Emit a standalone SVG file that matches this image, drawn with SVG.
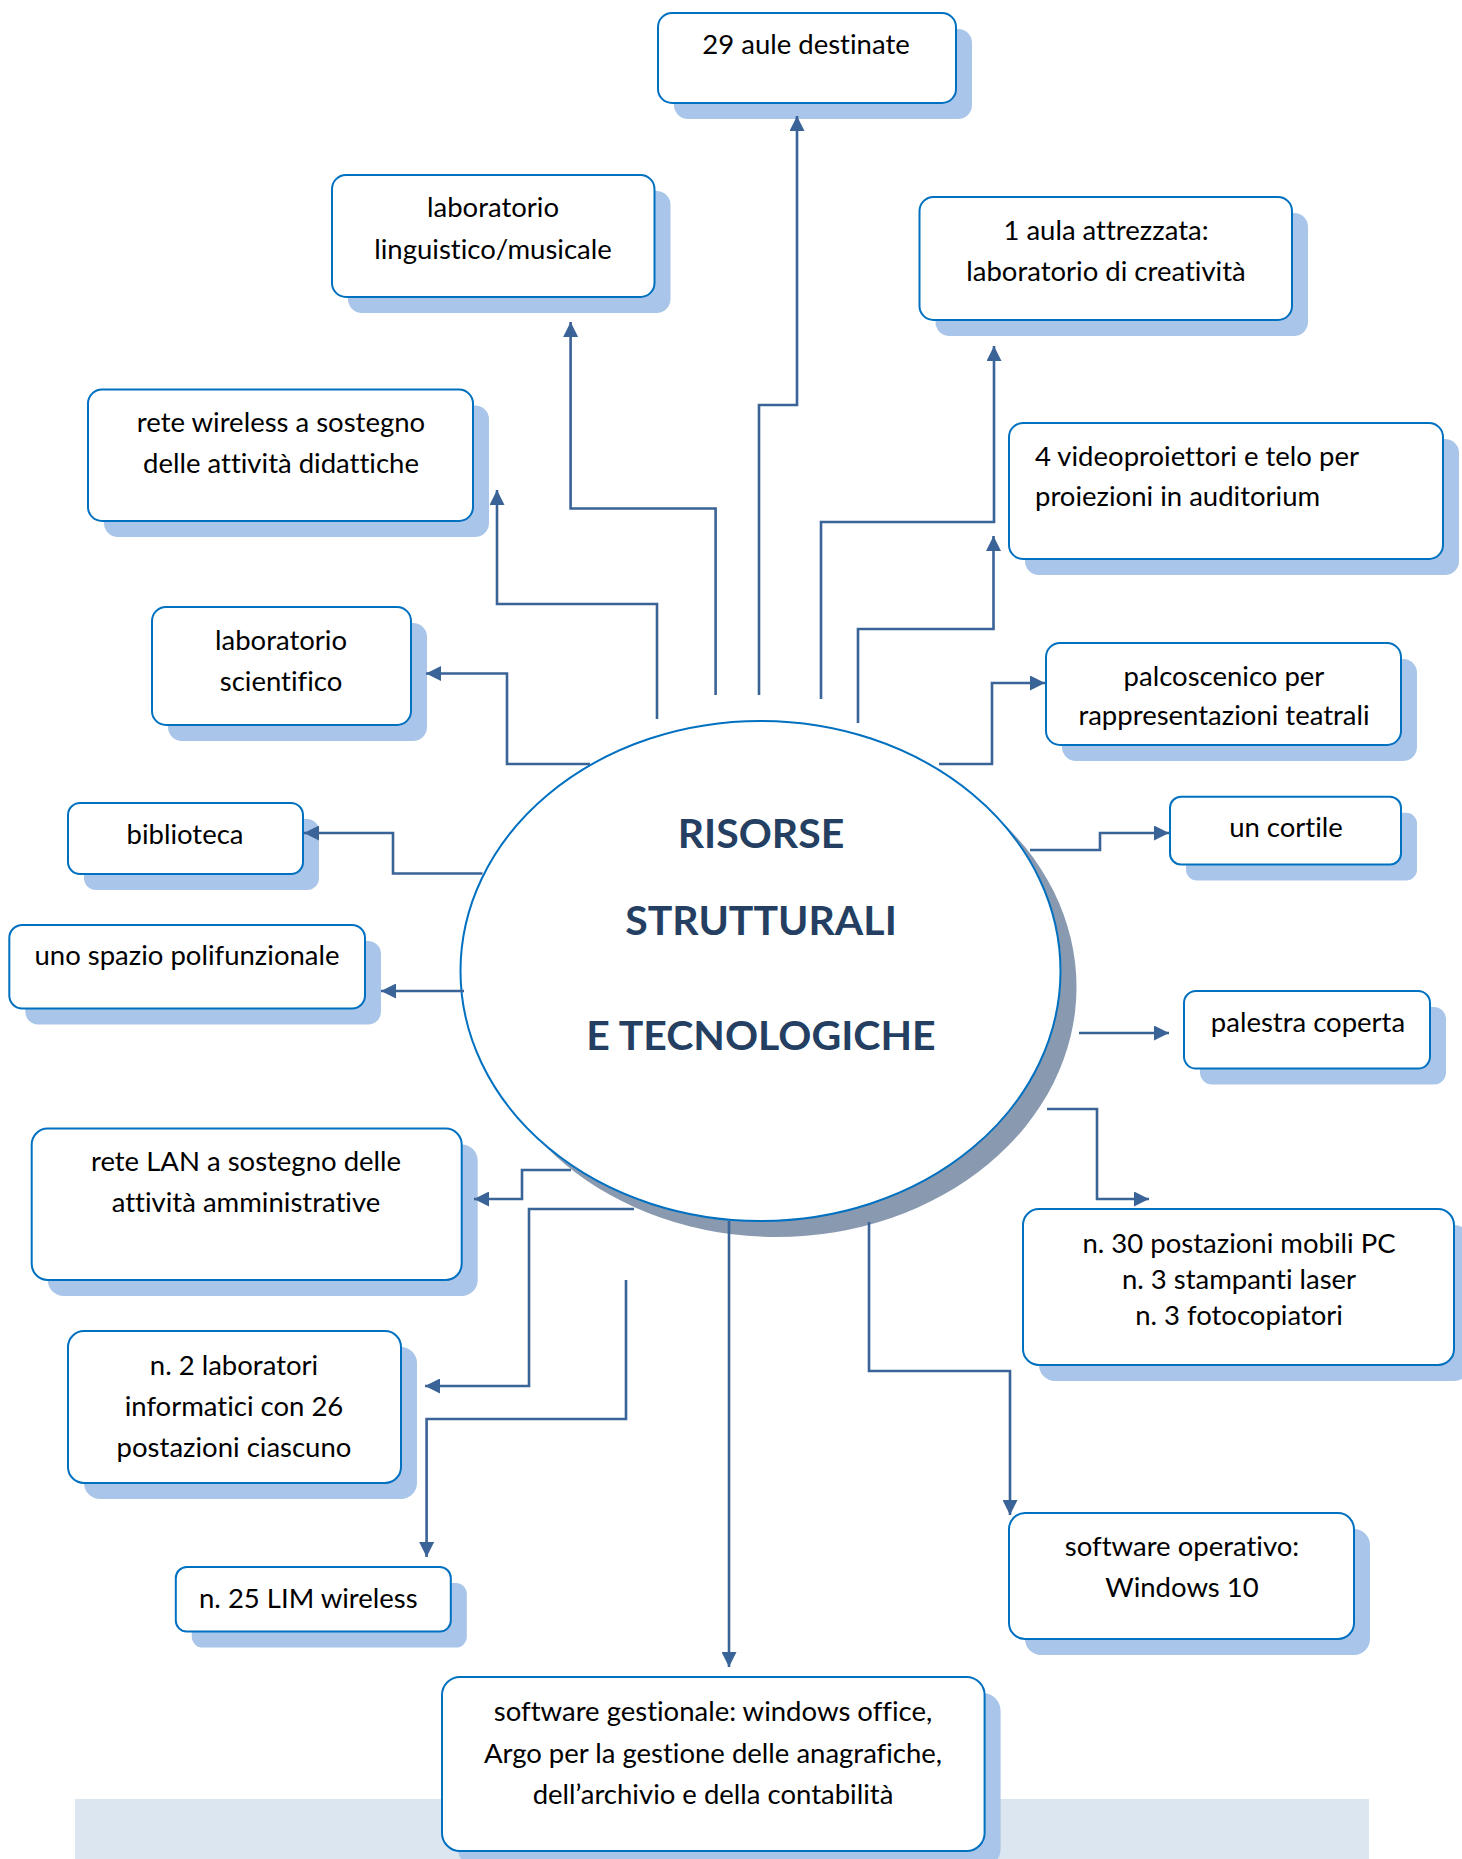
<svg xmlns="http://www.w3.org/2000/svg" width="1462" height="1859" viewBox="0 0 1462 1859">
<defs>
<marker id="arr" viewBox="0 0 15 15" refX="15" refY="7.5" markerWidth="15" markerHeight="15" markerUnits="userSpaceOnUse" orient="auto">
<path d="M0,0 L15,7.5 L0,15 Z" fill="#3a6397"/>
</marker>
<style>
.box{fill:#fff;stroke:#0070c0;stroke-width:2}
.sh{fill:#a9c5e9}
.t{font-family:Lato,"Liberation Sans",sans-serif;font-size:27.5px;fill:#000;font-variant-ligatures:none}
.c{text-anchor:middle}
.con{fill:none;stroke:#3a6397;stroke-width:2.6;marker-end:url(#arr)}
.title{font-family:Lato,"Liberation Sans",sans-serif;font-weight:bold;font-size:41px;fill:#243f62;text-anchor:middle}
</style>
</defs>
<rect x="75" y="1799" width="1294" height="60" fill="#dce6f1"/>

<g id="center">
<ellipse cx="776.5" cy="987" rx="300" ry="250" fill="#8899b0"/>
<ellipse cx="760.5" cy="971" rx="300" ry="250" fill="#fff" stroke="#0070c0" stroke-width="2"/>
<text class="title" x="761" y="848">RISORSE</text>
<text class="title" x="761" y="935">STRUTTURALI</text>
<text class="title" x="761" y="1050">E TECNOLOGICHE</text>
</g>

<g id="n1">
<rect class="sh" x="674" y="29" width="298" height="90" rx="14"/>
<rect class="box" x="658" y="13" width="298" height="90" rx="14"/>
<text class="t c" x="806" y="54">29 aule destinate</text>
</g>
<g id="n2">
<rect class="sh" x="348" y="191" width="322.5" height="122" rx="14"/>
<rect class="box" x="332" y="175" width="322.5" height="122" rx="14"/>
<text class="t c" x="493" y="217">laboratorio</text>
<text class="t c" x="493" y="259">linguistico/musicale</text>
</g>
<g id="n3">
<rect class="sh" x="935.5" y="213" width="372.5" height="123" rx="14"/>
<rect class="box" x="919.5" y="197" width="372.5" height="123" rx="14"/>
<text class="t c" x="1106" y="240">1 aula attrezzata:</text>
<text class="t c" x="1106" y="281">laboratorio di creatività</text>
</g>
<g id="n4">
<rect class="sh" x="1025" y="439" width="434" height="136" rx="14"/>
<rect class="box" x="1009" y="423" width="434" height="136" rx="14"/>
<text class="t" x="1035" y="466">4 videoproiettori e telo per</text>
<text class="t" x="1035" y="506">proiezioni in auditorium</text>
</g>
<g id="n5">
<rect class="sh" x="104" y="405.5" width="385" height="131.5" rx="14"/>
<rect class="box" x="88" y="389.5" width="385" height="131.5" rx="14"/>
<text class="t c" x="281" y="432">rete wireless a sostegno</text>
<text class="t c" x="281" y="472.5">delle attività didattiche</text>
</g>
<g id="n6">
<rect class="sh" x="168" y="623" width="259" height="118" rx="14"/>
<rect class="box" x="152" y="607" width="259" height="118" rx="14"/>
<text class="t c" x="281" y="650">laboratorio</text>
<text class="t c" x="281" y="691">scientifico</text>
</g>
<g id="n7">
<rect class="sh" x="84" y="819" width="235" height="71" rx="12"/>
<rect class="box" x="68" y="803" width="235" height="71" rx="12"/>
<text class="t c" x="185" y="844">biblioteca</text>
</g>
<g id="n8">
<rect class="sh" x="25.3" y="941" width="355.7" height="83.6" rx="13"/>
<rect class="box" x="9.3" y="925" width="355.7" height="83.6" rx="13"/>
<text class="t c" x="187" y="965">uno spazio polifunzionale</text>
</g>
<g id="n9">
<rect class="sh" x="47.7" y="1144.6" width="430" height="151.4" rx="16"/>
<rect class="box" x="31.7" y="1128.6" width="430" height="151.4" rx="16"/>
<text class="t c" x="246" y="1171">rete LAN a sostegno delle</text>
<text class="t c" x="246" y="1212">attività amministrative</text>
</g>
<g id="n10">
<rect class="sh" x="84" y="1347" width="333" height="152" rx="16"/>
<rect class="box" x="68" y="1331" width="333" height="152" rx="16"/>
<text class="t c" x="234" y="1375">n. 2 laboratori</text>
<text class="t c" x="234" y="1416">informatici con 26</text>
<text class="t c" x="234" y="1457">postazioni ciascuno</text>
</g>
<g id="n11">
<rect class="sh" x="191.8" y="1583" width="275" height="64.6" rx="11"/>
<rect class="box" x="175.8" y="1567" width="275" height="64.6" rx="11"/>
<text class="t" x="199" y="1608">n. 25 LIM wireless</text>
</g>
<g id="n12">
<rect class="sh" x="458" y="1693" width="542.6" height="174" rx="18"/>
<rect class="box" x="442" y="1677" width="542.6" height="174" rx="18"/>
<text class="t c" x="713" y="1721">software gestionale: windows office,</text>
<text class="t c" x="713" y="1763">Argo per la gestione delle anagrafiche,</text>
<text class="t c" x="713" y="1803.5">dell’archivio e della contabilità</text>
</g>
<g id="n13">
<rect class="sh" x="1025" y="1529" width="345" height="126" rx="16"/>
<rect class="box" x="1009" y="1513" width="345" height="126" rx="16"/>
<text class="t c" x="1182" y="1556">software operativo:</text>
<text class="t c" x="1182" y="1597">Windows 10</text>
</g>
<g id="n14">
<rect class="sh" x="1039" y="1225" width="431" height="156" rx="16"/>
<rect class="box" x="1023" y="1209" width="431" height="156" rx="16"/>
<text class="t c" x="1239" y="1252.6">n. 30 postazioni mobili PC</text>
<text class="t c" x="1239" y="1288.5">n. 3 stampanti laser</text>
<text class="t c" x="1239" y="1324.7">n. 3 fotocopiatori</text>
</g>
<g id="n15">
<rect class="sh" x="1200" y="1007" width="246" height="77.6" rx="12"/>
<rect class="box" x="1184" y="991" width="246" height="77.6" rx="12"/>
<text class="t c" x="1308" y="1032">palestra coperta</text>
</g>
<g id="n16">
<rect class="sh" x="1186" y="812.7" width="231" height="67.8" rx="11"/>
<rect class="box" x="1170" y="796.7" width="231" height="67.8" rx="11"/>
<text class="t c" x="1286" y="837">un cortile</text>
</g>
<g id="n17">
<rect class="sh" x="1062" y="659" width="355" height="102" rx="14"/>
<rect class="box" x="1046" y="643" width="355" height="102" rx="14"/>
<text class="t c" x="1224" y="686">palcoscenico per</text>
<text class="t c" x="1224" y="725">rappresentazioni teatrali</text>
</g>

<g id="connectors">
<path class="con" d="M759,695 V405 H797 V116"/>
<path class="con" d="M715.6,695 V508.5 H570.6 V322"/>
<path class="con" d="M821,699 V522 H994 V346"/>
<path class="con" d="M657,719 V604 H497 V490"/>
<path class="con" d="M858,723 V629 H993.5 V536"/>
<path class="con" d="M939,764 H992 V683 H1045"/>
<path class="con" d="M590,764 H507 V673.5 H426"/>
<path class="con" d="M1030,850 H1100 V833 H1169"/>
<path class="con" d="M482.5,873.5 H393 V833 H304"/>
<path class="con" d="M464,991 H381"/>
<path class="con" d="M1079,1033 H1169"/>
<path class="con" d="M1047,1109 H1097 V1199 H1149"/>
<path class="con" d="M571,1170 H522 V1199 H474"/>
<path class="con" d="M634,1209 H529 V1386 H425"/>
<path class="con" d="M626,1280 V1419 H426.6 V1557"/>
<path class="con" d="M869,1222 V1371 H1010 V1515"/>
<path class="con" d="M729,1221 V1667"/>
</g>
</svg>
